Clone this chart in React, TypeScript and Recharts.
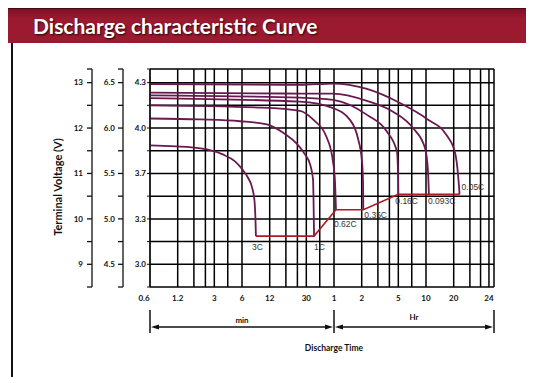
import { CartesianGrid, Line, LineChart, XAxis, YAxis } from "recharts";

// discharge curves, [minutes, volts on 12V scale]
const rate3C = [[0.6, 11.62], [1, 11.6], [1.6, 11.58], [2.5, 11.53], [3.7, 11.42], [5, 11.27], [6, 11.1], [7, 10.9], [7.7, 10.7], [8.2, 10.4], [8.4, 10.0], [8.5, 9.62]];
const rate1C = [[0.6, 12.21], [2.1, 12.19], [5.7, 12.15], [11.2, 12.08], [16.7, 11.9], [23, 11.68], [29, 11.42], [33, 11.2], [35.5, 10.87], [36, 10.32], [36.4, 9.62]];
const rate062C = [[0.6, 12.5], [10, 12.45], [25.6, 12.38], [35.5, 12.19], [50.3, 11.78], [58.5, 11.26], [61.5, 10.82], [63, 10.2]];
const rate035C = [[0.6, 12.66], [25.6, 12.58], [58.5, 12.44], [89.5, 12.18], [109, 11.78], [121, 11.26], [124, 10.82], [125, 10.2]];
const rate016C = [[0.6, 12.72], [25.6, 12.67], [58.5, 12.62], [137, 12.29], [226, 11.92], [290, 11.48], [298, 10.98], [300, 10.54]];
const rate0093C = [[0.6, 12.78], [25.6, 12.76], [58.5, 12.76], [137, 12.6], [263, 12.36], [433, 12.0], [585, 11.56], [631, 11.04], [645, 10.54]];
const rate005C = [[0.6, 12.97], [25.6, 12.95], [58.5, 12.98], [137, 12.86], [313, 12.55], [615, 12.2], [1015, 11.83], [1240, 11.46], [1337, 10.98], [1390, 10.54]];

// end of discharge line
const endTimes = [8.5, 36.4, 63, 125, 300, 645, 1390];
const endVolts = [9.62, 9.62, 10.2, 10.2, 10.54, 10.54, 10.54];
const rateLabels = ["3C", "1C", "0.62C", "0.35C", "0.16C", "0.093C", "0.05C"];

// axes
const timeTicks = [0.6, 1.2, 3, 6, 12, 30, 60, 120, 300, 600, 1200, 2900];
const timeTickLabels = ["0.6", "1.2", "3", "6", "12", "30", "1", "2", "5", "10", "20", "24"];
const gridTimes = [0.6, 1.2, 1.8, 2.4, 3, 4.2, 6, 12, 18, 24, 30, 42, 60, 120, 180, 240, 300, 420, 600, 1200, 1800, 2350, 2900, 3290];
const voltTicks = [8.5, 9, 9.5, 10, 10.5, 11, 11.5, 12, 12.5, 13, 13.3];
const majorVolts = [9, 10, 11, 12, 13];
const labels12V = ["9", "10", "11", "12", "13"];
const labels6V = ["4.5", "5.0", "5.5", "6.0", "6.5"];
const labelsCell = ["3.0", "3.3", "3.7", "4.0", "4.3"];

const curves = [rate3C, rate1C, rate062C, rate035C, rate016C, rate0093C, rate005C];
// every axis shares one domain; spread the curves over them so each axis has data
const curveAxis = ["twelve", "six", "cell", "cell", "cell", "cell", "cell"];
const toPoints = (c: number[][]) => c.map(([t, v]) => ({ t, v }));
const endData = endTimes.map((t, i) => ({ t, v: endVolts[i], label: rateLabels[i] }));

const TIME_DOMAIN = [0.6, 3290];
const VOLT_DOMAIN = [8.5, 13.3];
const PLOT = { left: 142, top: 61, width: 344, height: 218 };
const xOf = (m: number) =>
  PLOT.left +
  ((Math.log10(m) - Math.log10(TIME_DOMAIN[0])) / (Math.log10(TIME_DOMAIN[1]) - Math.log10(TIME_DOMAIN[0]))) * PLOT.width;

const font = "Lato, 'Open Sans', sans-serif";

// where each end label sits relative to its end point
const labelNudge = [[-4, 14], [0, 14], [-2, 17], [1, 8], [-3, 10], [-1, 10], [2, -4]];

const voltFormatter = (labels: string[]) => (v: number) => {
  const i = majorVolts.indexOf(v);
  return i >= 0 ? labels[i] : "";
};

const TimeTick = (props: any) => {
  const { x, y, index } = props;
  return (
    <text x={x + (index === 0 ? -6 : 0)} y={y} dy={10} textAnchor="middle" fontSize={8} fontWeight={700} fill="#111" fontFamily={font}>
      {timeTickLabels[index]}
    </text>
  );
};

const EndLabel = (props: any) => {
  const { x, y, index } = props;
  const [dx, dy] = labelNudge[index] || [0, 12];
  return (
    <text x={x + dx} y={y + dy} fontSize={8.5} fill="#333" fontFamily="'Liberation Sans', Arial, sans-serif">
      {rateLabels[index]}
    </text>
  );
};

const axisTick = { fontSize: 8, fontWeight: 700, fill: "#111", fontFamily: font };

function Arrow({ x1, x2, y }: { x1: number; x2: number; y: number }) {
  return (
    <g>
      <line x1={x1 + 6} x2={x2 - 6} y1={y} y2={y} stroke="#111" strokeWidth={1.3} />
      <polygon points={`${x1 + 1},${y} ${x1 + 9},${y - 2.5} ${x1 + 9},${y + 2.5}`} fill="#111" />
      <polygon points={`${x2 - 1},${y} ${x2 - 9},${y - 2.5} ${x2 - 9},${y + 2.5}`} fill="#111" />
    </g>
  );
}

export default function App() {
  const xMin = xOf(0.6);
  const xHr = xOf(60);
  const xEnd = xOf(3290);
  return (
    <div style={{ position: "relative", width: 526, height: 369, background: "#fff", overflow: "hidden" }}>
      <div
        style={{
          position: "absolute",
          left: 0,
          top: 0,
          width: 526,
          height: 35,
          background: "linear-gradient(#7e1024, #9c1a30 30%, #9a1a30)",
          borderTop: "1px solid #4a0812",
          color: "#fff",
          fontFamily: font,
          fontWeight: 700,
          fontSize: 21,
          lineHeight: "34px",
          paddingLeft: 25,
          boxSizing: "border-box",
          textShadow: "1px 1px 2px #300006",
        }}
      >
        Discharge characteristic Curve
      </div>
      <div style={{ position: "absolute", left: 3, top: 35, width: 2, height: 334, background: "#111" }} />

      <div style={{ position: "absolute", left: 0, top: 0 }}>
        <LineChart width={526} height={369} margin={{ top: PLOT.top, right: 526 - PLOT.left - PLOT.width, bottom: 70, left: 54 }}>
          <CartesianGrid
            xAxisId="time"
            yAxisId="cell"
            verticalValues={gridTimes}
            horizontalValues={voltTicks}
            stroke="#000"
            strokeWidth={1.5}
          />
          <XAxis
            xAxisId="time"
            dataKey="t"
            type="number"
            scale="log"
            domain={TIME_DOMAIN}
            allowDataOverflow
            ticks={timeTicks}
            interval={0}
            height={20}
            axisLine={false}
            tickLine={false}
            tickSize={0}
            tickMargin={4}
            tick={<TimeTick />}
          />
          <YAxis
            yAxisId="cell"
            type="number"
            domain={VOLT_DOMAIN}
            allowDataOverflow
            ticks={voltTicks}
            interval={0}
            width={27}
            tickSize={3}
            tickMargin={1}
            tickFormatter={voltFormatter(labelsCell)}
            tick={axisTick}
            stroke="#111"
          />
          <YAxis
            yAxisId="six"
            type="number"
            domain={VOLT_DOMAIN}
            allowDataOverflow
            ticks={voltTicks}
            interval={0}
            width={31}
            tickSize={5}
            tickMargin={3}
            tickFormatter={voltFormatter(labels6V)}
            tick={axisTick}
            stroke="#111"
            strokeWidth={1.3}
          />
          <YAxis
            yAxisId="twelve"
            type="number"
            domain={VOLT_DOMAIN}
            allowDataOverflow
            ticks={voltTicks}
            interval={0}
            width={30}
            tickSize={5}
            tickMargin={4}
            tickFormatter={voltFormatter(labels12V)}
            tick={axisTick}
            stroke="#111"
            strokeWidth={1.3}
          />
          {curves.map((c, i) => (
            <Line
              key={rateLabels[i]}
              xAxisId="time"
              yAxisId={curveAxis[i]}
              data={toPoints(c)}
              dataKey="v"
              type="monotone"
              stroke="#6a1850"
              strokeWidth={1.8}
              dot={false}
              isAnimationActive={false}
            />
          ))}
          <Line
            xAxisId="time"
            yAxisId="cell"
            data={endData}
            dataKey="v"
            type="linear"
            stroke="#a81c22"
            strokeWidth={1.6}
            dot={false}
            label={<EndLabel />}
            isAnimationActive={false}
          />
        </LineChart>
      </div>

      <div
        style={{
          position: "absolute",
          left: 49,
          top: 179,
          transform: "translate(-50%, -50%) rotate(-90deg)",
          whiteSpace: "nowrap",
          fontFamily: font,
          fontWeight: 700,
          fontSize: 11,
          color: "#111",
        }}
      >
        Terminal Voltage (V)
      </div>

      <svg width={526} height={369} style={{ position: "absolute", left: 0, top: 0, pointerEvents: "none" }}>
        <line x1={xMin} x2={xMin} y1={302} y2={325} stroke="#111" strokeWidth={1.5} />
        <line x1={xHr} x2={xHr} y1={302} y2={325} stroke="#111" strokeWidth={1.5} />
        <line x1={xEnd} x2={xEnd} y1={302} y2={325} stroke="#111" strokeWidth={1.5} />
        <Arrow x1={xMin} x2={xHr} y={319} />
        <Arrow x1={xHr} x2={xEnd} y={319} />
        <text x={(xMin + xHr) / 2} y={315} textAnchor="middle" fontSize={8} fontWeight={700} fill="#111" fontFamily={font}>
          min
        </text>
        <text x={(xHr + xEnd) / 2} y={312} textAnchor="middle" fontSize={8} fontWeight={700} fill="#111" fontFamily={font}>
          Hr
        </text>
        <text x={xHr} y={343} textAnchor="middle" fontSize={8.5} fontWeight={700} fill="#111" fontFamily={font}>
          Discharge Time
        </text>
      </svg>
    </div>
  );
}
